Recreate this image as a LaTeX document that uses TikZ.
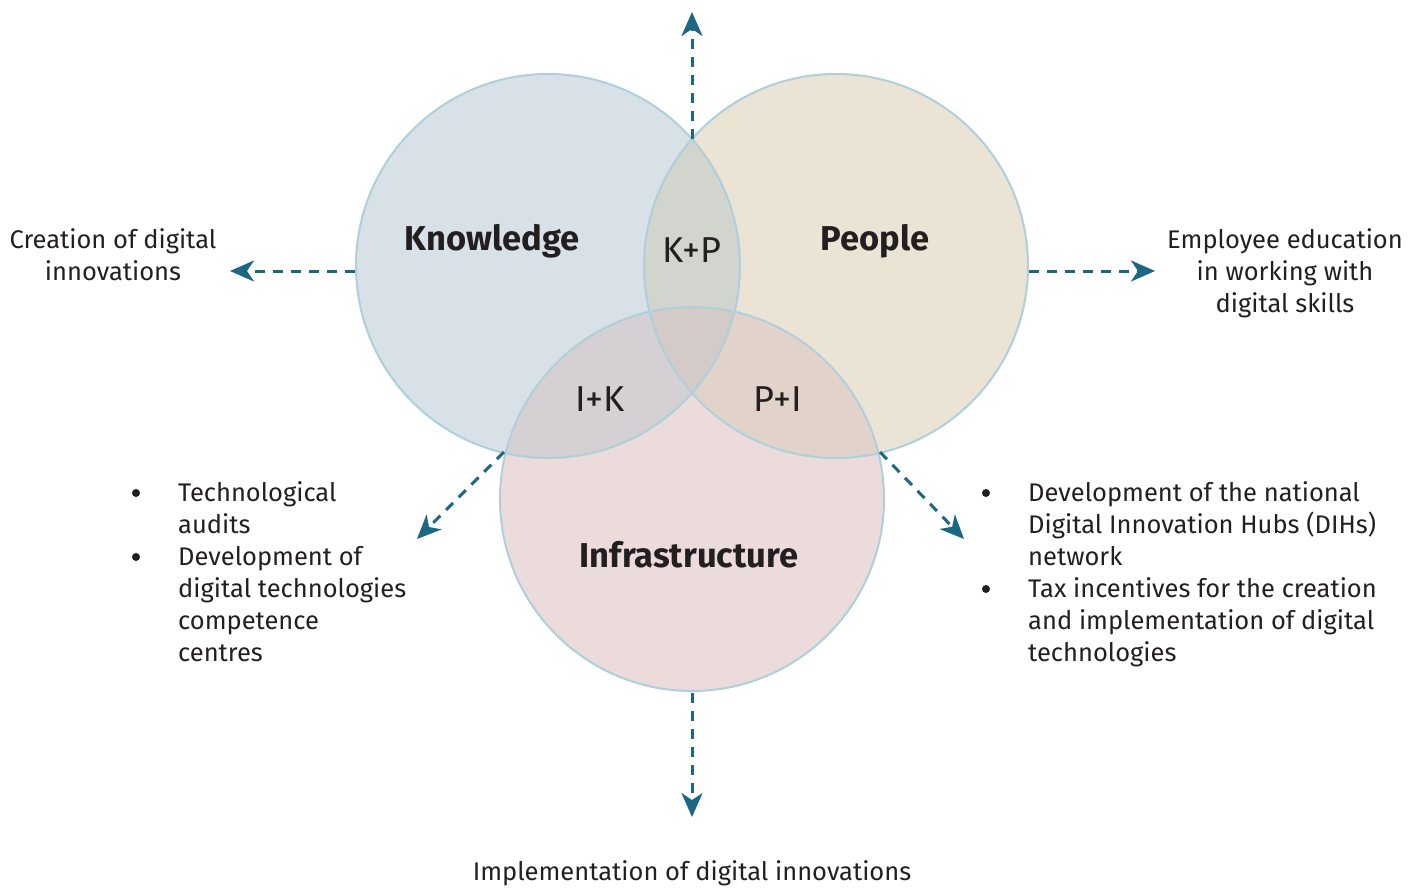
\documentclass[tikz,border=0pt]{standalone}
\usepackage{fontspec}
\setmainfont{Fira Sans}
\usetikzlibrary{arrows.meta}
\definecolor{kfill}{HTML}{D8E1E8}
\definecolor{pfill}{HTML}{EBE3D4}
\definecolor{ifill}{HTML}{EBDCDB}
\definecolor{kpfill}{HTML}{D2D4CE}
\definecolor{ikfill}{HTML}{D5D0D4}
\definecolor{pifill}{HTML}{E2D3CA}
\definecolor{cfill}{HTML}{D2CBC7}
\definecolor{ringcol}{HTML}{AFCFDB}
\definecolor{arrowcol}{HTML}{1C6882}
\definecolor{txt}{HTML}{231F20}
\tikzset{
  disc/.style={circle, minimum size=384pt, inner sep=0pt, draw=none},
  ring/.style={draw=ringcol, line width=2pt},
  flow/.style={draw=arrowcol, line width=3pt, dash pattern=on 10pt off 8pt,
    -{Stealth[length=24pt,width=21pt,inset=7pt]}},
  body/.style={text=txt, inner sep=0pt, font=\fontsize{25.5}{32}\selectfont},
  head/.style={text=txt, inner sep=0pt, font=\fontsize{34.5}{40}\selectfont\bfseries},
  pair/.style={text=txt, inner sep=0pt, font=\fontsize{36}{40}\selectfont},
  dot/.style={circle, fill=txt, inner sep=0pt, minimum size=8pt},
}
\begin{document}
\begin{tikzpicture}[x=1pt,y=-1pt]
\useasboundingbox (0,0) rectangle (1421,887);
% base discs
\node[disc, fill=kfill] (K) at (548,266) {};
\node[disc, fill=pfill] (P) at (836,266) {};
\node[disc, fill=ifill] (I) at (692,499) {};
% overlaps
\begin{scope}
  \clip (548,266) circle (192);
  \fill[kpfill] (836,266) circle (192);
\end{scope}
\begin{scope}
  \clip (548,266) circle (192);
  \fill[ikfill] (692,499) circle (192);
\end{scope}
\begin{scope}
  \clip (836,266) circle (192);
  \fill[pifill] (692,499) circle (192);
\end{scope}
\begin{scope}
  \clip (548,266) circle (192);
  \clip (836,266) circle (192);
  \fill[cfill] (692,499) circle (192);
\end{scope}
% outlines
\draw[ring] (K.center) circle (192);
\draw[ring] (P.center) circle (192);
\draw[ring] (I.center) circle (192);
% connector points
\coordinate (top0) at (692,139);
\coordinate (top1) at (692,12);
\coordinate (left0) at (355,271);
\coordinate (left1) at (230,271);
\coordinate (right0) at (1029,271);
\coordinate (right1) at (1155,271);
\coordinate (bot0) at (692,693);
\coordinate (bot1) at (692,817);
\coordinate (ll0) at (504,452);
\coordinate (ll1) at (417,539);
\coordinate (lr0) at (880,452);
\coordinate (lr1) at (964,539);
\draw[flow] (top0) -- (top1);
\draw[flow] (left0) -- (left1);
\draw[flow] (right0) -- (right1);
\draw[flow] (bot0) -- (bot1);
\draw[flow] (ll0) -- (ll1);
\draw[flow] (lr0) -- (lr1);
% circle labels
\node[head, anchor=base] (tK) at (492,250) {Knowledge};
\node[head, anchor=base] (tP) at (875,250) {People};
\node[head, anchor=base] (tI) at (689,567) {Infrastructure};
\node[pair, anchor=base] (tKP) at (692,262) {K+P};
\node[pair, anchor=base] (tIK) at (600,411) {I+K};
\node[pair, anchor=base] (tPI) at (778,411) {P+I};
% outcome texts
\node[body, anchor=base] (c1) at (113,248) {Creation of digital};
\node[body, anchor=base] (c2) at (113,280) {innovations};
\node[body, anchor=base] (e1) at (1285,248) {Employee education};
\node[body, anchor=base] (e2) at (1285,280) {in working with};
\node[body, anchor=base] (e3) at (1285,312) {digital skills};
\node[body, anchor=base] (b1) at (692,880) {Implementation of digital innovations};
% left bullets
\node[dot] (lb1) at (136,493) {};
\node[dot] (lb2) at (136,557) {};
\node[body, anchor=base west] (l1) at (178,501) {Technological};
\node[body, anchor=base west] (l2) at (178,533) {audits};
\node[body, anchor=base west] (l3) at (178,565) {Development of};
\node[body, anchor=base west] (l4) at (178,597) {digital technologies};
\node[body, anchor=base west] (l5) at (178,629) {competence};
\node[body, anchor=base west] (l6) at (178,661) {centres};
% right bullets
\node[dot] (rb1) at (986,493) {};
\node[dot] (rb2) at (986,589) {};
\node[body, anchor=base west] (r1) at (1028,501) {Development of the national};
\node[body, anchor=base west] (r2) at (1028,533) {Digital Innovation Hubs (DIHs)};
\node[body, anchor=base west] (r3) at (1028,565) {network};
\node[body, anchor=base west] (r4) at (1028,597) {Tax incentives for the creation};
\node[body, anchor=base west] (r5) at (1028,629) {and implementation of digital};
\node[body, anchor=base west] (r6) at (1028,661) {technologies};
\end{tikzpicture}
\end{document}
